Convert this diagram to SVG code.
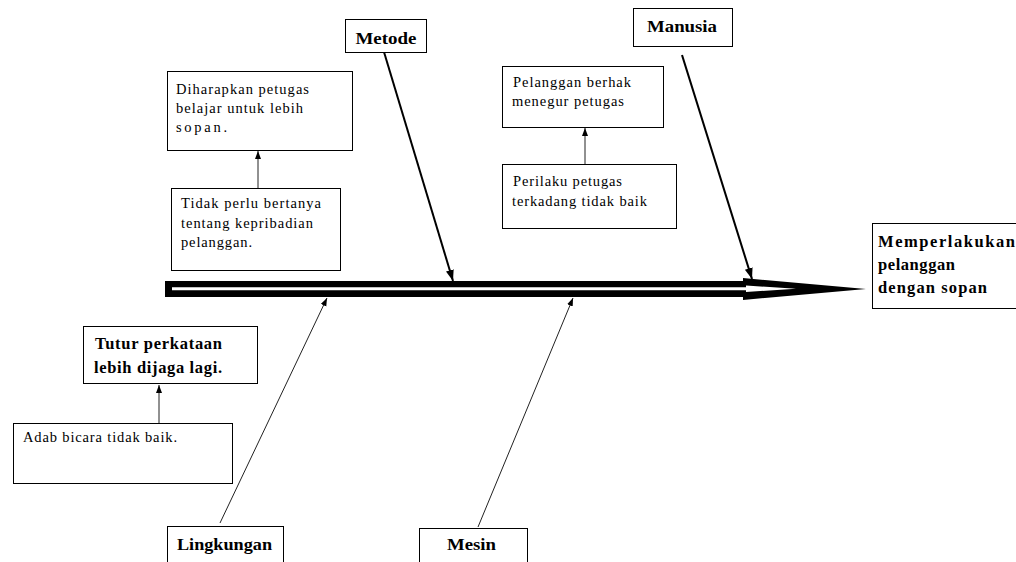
<svg xmlns="http://www.w3.org/2000/svg" width="1016" height="562" viewBox="0 0 1016 562">
<defs>
<style>
.box{fill:#fff;stroke:#000;stroke-width:1}
.t{font-family:"Liberation Serif","Times New Roman",serif;font-size:14.5px;fill:#000}
.b{font-family:"Liberation Serif","Times New Roman",serif;font-size:16.5px;font-weight:bold;fill:#000}
.thick{stroke:#000;stroke-width:2;fill:none}
.thin{stroke:#222;stroke-width:1;fill:none}
</style>
<marker id="ah" markerUnits="userSpaceOnUse" markerWidth="12" markerHeight="10" refX="11" refY="4" orient="auto">
<path d="M0,0 L11,4 L0,8 Z" fill="#000"/>
</marker>
<marker id="as" markerUnits="userSpaceOnUse" markerWidth="9" markerHeight="8" refX="8" refY="3" orient="auto">
<path d="M0,0 L8,3 L0,6 Z" fill="#000"/>
</marker>
</defs>
<rect width="1016" height="562" fill="#fff"/>

<g id="spine">
<polygon points="165,281 743,281 743,278 866,289 743,300 743,297 165,297" fill="#000"/>
<polygon points="172,287.3 746,287.3 746,285.5 796,288.8 746,292 746,290.2 172,290.2" fill="#fff"/>
</g>

<g id="connectors">
<line class="thick" x1="384" y1="52" x2="453" y2="281" marker-end="url(#ah)"/>
<line class="thick" x1="682" y1="55" x2="752" y2="279" marker-end="url(#ah)"/>
<line class="thin" x1="220" y1="523" x2="327" y2="298" marker-end="url(#as)"/>
<line class="thin" x1="478" y1="527" x2="573" y2="298" marker-end="url(#as)"/>
<line class="thin" x1="258" y1="188" x2="258" y2="151" marker-end="url(#as)"/>
<line class="thin" x1="585" y1="164" x2="585" y2="128" marker-end="url(#as)"/>
<line class="thin" x1="159" y1="423" x2="159" y2="385" marker-end="url(#as)"/>
</g>

<g id="metode">
<rect class="box" x="345.5" y="19.5" width="81" height="33"/>
<text class="b" x="355.5" y="44" textLength="61" lengthAdjust="spacingAndGlyphs">Metode</text>
</g>

<g id="manusia">
<rect class="box" x="633.5" y="8.5" width="99" height="38"/>
<text class="b" x="647" y="32" textLength="70" lengthAdjust="spacingAndGlyphs">Manusia</text>
</g>

<g id="diharapkan">
<rect class="box" x="167.5" y="71.5" width="185" height="79"/>
<text class="t" x="176" y="94" textLength="133" lengthAdjust="spacing">Diharapkan petugas</text>
<text class="t" x="176" y="113" textLength="127" lengthAdjust="spacing">belajar untuk lebih</text>
<text class="t" x="176" y="132" textLength="51" lengthAdjust="spacing">sopan.</text>
</g>

<g id="tidak-perlu">
<rect class="box" x="171.5" y="188.5" width="169" height="82"/>
<text class="t" x="181" y="208" textLength="140" lengthAdjust="spacing">Tidak perlu bertanya</text>
<text class="t" x="181" y="228" textLength="132" lengthAdjust="spacing">tentang kepribadian</text>
<text class="t" x="181" y="247" textLength="71" lengthAdjust="spacing">pelanggan.</text>
</g>

<g id="pelanggan-berhak">
<rect class="box" x="502.5" y="66.5" width="161" height="61"/>
<text class="t" x="513" y="87" textLength="118" lengthAdjust="spacing">Pelanggan berhak</text>
<text class="t" x="512" y="106" textLength="112" lengthAdjust="spacing">menegur petugas</text>
</g>

<g id="perilaku">
<rect class="box" x="502.5" y="164.5" width="174" height="64"/>
<text class="t" x="513" y="186" textLength="109" lengthAdjust="spacing">Perilaku petugas</text>
<text class="t" x="512" y="206" textLength="135" lengthAdjust="spacing">terkadang tidak baik</text>
</g>

<g id="hasil">
<rect class="box" x="872.5" y="223.5" width="160" height="85"/>
<text class="b" x="878" y="247" textLength="137" lengthAdjust="spacing">Memperlakukan</text>
<text class="b" x="878" y="270" textLength="77" lengthAdjust="spacing">pelanggan</text>
<text class="b" x="878" y="293" textLength="109" lengthAdjust="spacing">dengan sopan</text>
</g>

<g id="tutur">
<rect class="box" x="83.5" y="326.5" width="174" height="57"/>
<text class="b" x="95" y="349" textLength="127" lengthAdjust="spacing">Tutur perkataan</text>
<text class="b" x="94" y="373" textLength="128" lengthAdjust="spacing">lebih dijaga lagi.</text>
</g>

<g id="adab">
<rect class="box" x="13.5" y="423.5" width="219" height="60"/>
<text class="t" x="23" y="442" textLength="154" lengthAdjust="spacing">Adab bicara tidak baik.</text>
</g>

<g id="lingkungan">
<rect class="box" x="167.5" y="526.5" width="116" height="50"/>
<text class="b" x="177" y="550" textLength="95" lengthAdjust="spacingAndGlyphs">Lingkungan</text>
</g>

<g id="mesin">
<rect class="box" x="419.5" y="528.5" width="108" height="50"/>
<text class="b" x="447" y="550" textLength="49" lengthAdjust="spacingAndGlyphs">Mesin</text>
</g>
</svg>
